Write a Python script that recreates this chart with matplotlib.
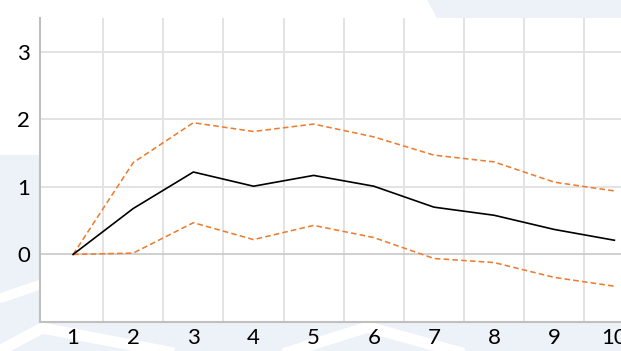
import matplotlib.pyplot as plt
from matplotlib.patches import Polygon

# impulse response with upper / lower bands
periods = [1, 2, 3, 4, 5, 6, 7, 8, 9, 10]
response = [0.0, 0.68, 1.22, 1.01, 1.17, 1.01, 0.70, 0.58, 0.37, 0.21]
upper = [0.0, 1.36, 1.95, 1.82, 1.93, 1.74, 1.47, 1.37, 1.07, 0.94]
lower = [0.0, 0.02, 0.47, 0.22, 0.43, 0.25, -0.06, -0.12, -0.34, -0.47]
y_ticks = [0, 1, 2, 3]

W, H = 621, 351
plt.rcParams['font.family'] = ['Lato', 'DejaVu Sans']
fig = plt.figure(figsize=(W / 100, H / 100), dpi=100)

# slide background decoration, in pixel coordinates
bg = fig.add_axes([0, 0, 1, 1], zorder=0)
bg.set_xlim(0, W)
bg.set_ylim(H, 0)
bg.axis('off')
pale = '#edf1f8'
bg.add_patch(Polygon([(427, 0), (W, 0), (W, H), (460, H), (437, 18)], closed=True, color=pale, lw=0))
bg.add_patch(Polygon([(0, 155), (60, 155), (60, 300), (W, 300), (W, H), (0, H)], closed=True, color=pale, lw=0))
bg.plot([-5, 45], [300, 283], color='white', lw=7, solid_capstyle='butt')
bg.plot([-10, 42, 200], [356, 328, 358], color='white', lw=8, solid_joinstyle='round')
bg.plot([270, 368, 480], [358, 327, 358], color='white', lw=8, solid_joinstyle='round')

ax = fig.add_axes([40 / W, 29 / H, 607.5 / W, 304 / H], zorder=1)
ax.set_facecolor('white')

ax.plot(periods, upper, color='#ed7d31', lw=1.15, linestyle=(0, (3.5, 2)))
ax.plot(periods, lower, color='#ed7d31', lw=1.15, linestyle=(0, (3.5, 2)))
ax.plot(periods, response, color='black', lw=1.2)

ax.set_xlim(0.45, 10.55)
ax.set_ylim(-1, 3.5)

# gridlines between categories and at integer levels
for gx in [1.5, 2.5, 3.5, 4.5, 5.5, 6.5, 7.5, 8.5, 9.5]:
    ax.axvline(gx, color='#e3e3e3', lw=1.4, zorder=0)
for gy in [1, 2, 3]:
    ax.axhline(gy, color='#e3e3e3', lw=1.4, zorder=0)
ax.axhline(0, color='#c8c8c8', lw=1.2, zorder=0.5)

ax.set_xticks(periods)
ax.set_xticklabels([str(p) for p in periods])
ax.set_yticks(y_ticks)
ax.set_yticklabels([str(v) for v in y_ticks])
ax.tick_params(length=0, labelsize=16, colors='black')
ax.tick_params(axis='x', pad=4)
ax.tick_params(axis='y', pad=7)

for side in ['top', 'right']:
    ax.spines[side].set_visible(False)
for side in ['left', 'bottom']:
    ax.spines[side].set_color('#c0c0c0')
    ax.spines[side].set_linewidth(1.5)

fig.savefig('out.png', dpi=100)
